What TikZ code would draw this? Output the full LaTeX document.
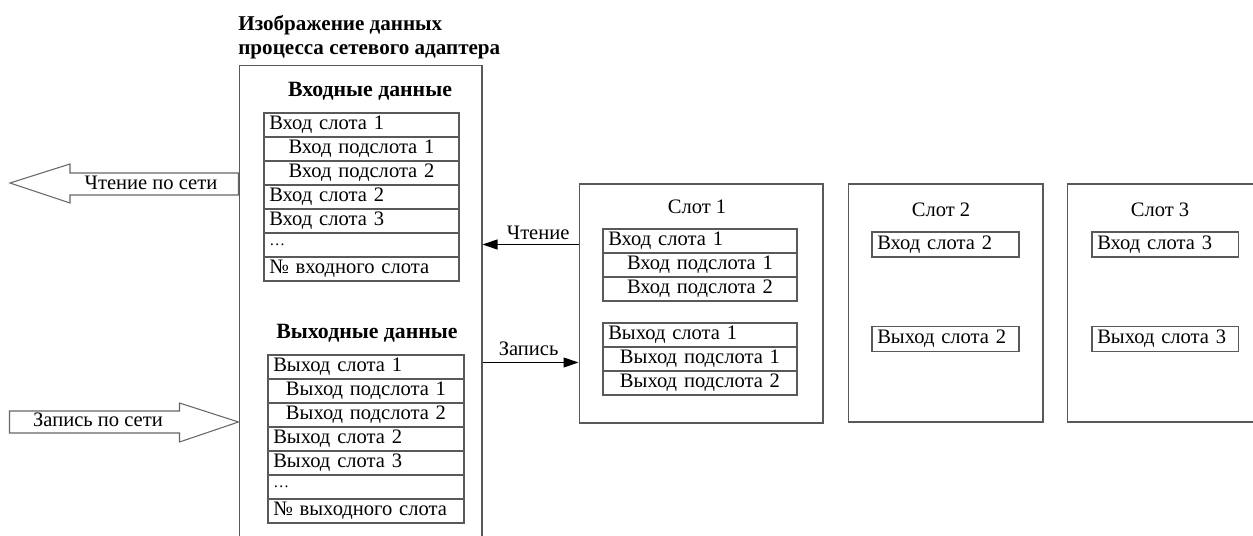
\documentclass[tikz,border=0pt]{standalone}
\usepackage{fontspec}
\setmainfont{Liberation Serif}
\usetikzlibrary{arrows.meta, positioning, calc}

\begin{document}
\begin{tikzpicture}[x=0.02cm, y=-0.02cm,
  every node/.style={font=\fontsize{11.7}{13.7}\selectfont},
  frame/.style={rectangle, draw=black!65, line width=0.6pt},
  row/.style={rectangle, draw=black!65, line width=0.6pt, minimum height=0.48cm,
    inner xsep=3pt, inner ysep=0pt, text width=#1},
  head/.style={font=\fontsize{12.4}{13.7}\selectfont\bfseries},
  flow/.style={-{Triangle[length=0.3cm, width=0.2cm]}, line width=0.6pt},
  bigarrow/.style={draw=black!60, line width=0.6pt, fill=white}
]
  \useasboundingbox (0,0) rectangle (1253,536);
  \clip (0,0) rectangle (1253,536);

  %% process image of the adapter
  \node[frame, minimum width=4.86cm, minimum height=9.9cm] (main) at (360.5,312.5) {};
  \node[head, font=\fontsize{12}{13.7}\selectfont\bfseries, align=left, anchor=west,
    inner sep=0pt] (ttl) at (238,37)
    {Изображение данных\\процесса сетевого адаптера};

  \node[head] (inhd) at (370,91) {Входные данные};
  \foreach \txt/\al [count=\i] in {Вход слота 1/left, Вход подслота 1/center,
      Вход подслота 2/center, Вход слота 2/left, Вход слота 3/left, {\small\dots}/left,
      № входного слота/left}
    \node[row=3.69cm, align=\al] (in\i) at (361.5, 101+24*\i) {\txt};

  \node[head] (outhd) at (367,333) {Выходные данные};
  \foreach \txt/\al [count=\i] in {Выход слота 1/left, Выход подслота 1/center,
      Выход подслота 2/center, Выход слота 2/left, Выход слота 3/left, {\small\dots}/left,
      № выходного слота/left}
    \node[row=3.71cm, align=\al] (out\i) at (366, 343+24*\i) {\txt};

  %% network read / write
  \coordinate (rdnet) at (10,183);
  \draw[bigarrow] (rdnet) -- ++(60,-19) -- ++(0,9)
    -- ($(rdnet -| main.west)+(0,-10)$) -- ++(0,22)
    -- ($(rdnet)+(60,12)$) -- ++(0,8) -- cycle;
  \node (rdlbl) at (151,183) {Чтение по сети};

  \coordinate (wrnet) at (main.west |- 0,422);
  \draw[bigarrow] (wrnet) -- ++(-59,-19) -- ++(0,8) -- ++(-170,0)
    -- ++(0,22) -- ++(170,0) -- ++(0,9) -- cycle;
  \node (wrlbl) at (98,420) {Запись по сети};

  %% slots
  \node[frame, minimum width=4.88cm, minimum height=4.78cm] (s1) at (701,303.5) {};
  \node[frame, minimum width=3.9cm, minimum height=4.76cm] (s2) at (945.5,303) {};
  \node[frame, minimum width=3.9cm, minimum height=4.76cm] (s3) at (1164.5,303) {};

  \node (s1t) at (697,207) {Слот 1};
  \node (s2t) at (941,210) {Слот 2};
  \node (s3t) at (1160,210) {Слот 3};

  \foreach \txt/\al [count=\i] in {Вход слота 1/left, Вход подслота 1/center,
      Вход подслота 2/center}
    \node[row=3.67cm, align=\al] (s1in\i) at (700, 217+24*\i) {\txt};
  \foreach \txt/\al [count=\i] in {Выход слота 1/left, Выход подслота 1/center,
      Выход подслота 2/center}
    \node[row=3.67cm, align=\al] (s1out\i) at (700, 311+24*\i) {\txt};

  \node[row=2.73cm, minimum height=0.5cm, align=left] (s2in) at (945.5,244.5) {Вход слота 2};
  \node[row=2.73cm, minimum height=0.5cm, align=left] (s2out) at (945.5,339) {Выход слота 2};
  \node[row=2.71cm, minimum height=0.5cm, align=left] (s3in) at (1165,244.5) {Вход слота 3};
  \node[row=2.71cm, minimum height=0.5cm, align=left] (s3out) at (1165,339) {Выход слота 3};

  %% read / write between slot 1 and the image
  \coordinate (rd) at ($(s1.north west)+(0,61)$);
  \coordinate (wr) at ($(s1.north west)+(0,179)$);
  \draw[flow] (rd) -- (rd -| main.east) node[pos=0.42, above=-1pt] {Чтение};
  \draw[flow] (wr -| main.east) -- (wr) node[pos=0.48, above=0pt] {Запись};

\end{tikzpicture}
\end{document}
